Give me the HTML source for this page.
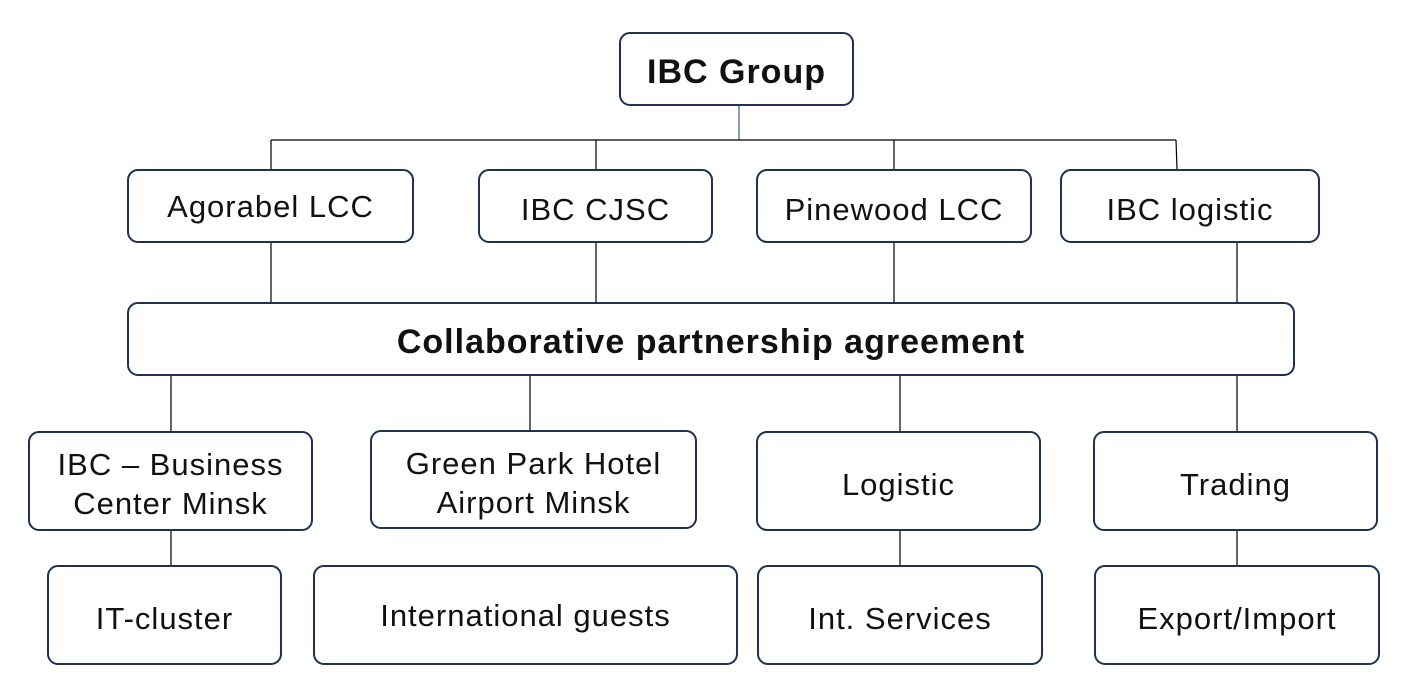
<!DOCTYPE html>
<html><head><meta charset="utf-8"><style>
body{margin:0;width:1409px;height:693px;background:#fff;position:relative;overflow:hidden;font-family:"Liberation Sans",sans-serif;}
.b{position:absolute;box-sizing:border-box;border:2px solid #1f3050;border-radius:11px;display:flex;align-items:center;justify-content:center;text-align:center;font-size:31px;line-height:39px;color:#111;letter-spacing:1px;padding-top:6px}
svg{position:absolute;left:0;top:0}
</style></head><body>
<svg width="1409" height="693"><g stroke="#000" stroke-width="1.2" fill="none">
<line x1="739" y1="106" x2="739" y2="140" stroke="#3a5a8a"/>
<line x1="271" y1="140" x2="1176" y2="140"/>
<line x1="271" y1="140" x2="271" y2="169"/><line x1="596" y1="140" x2="596" y2="169"/><line x1="894" y1="140" x2="894" y2="169"/><line x1="1176" y1="140" x2="1177" y2="169"/>
<line x1="271" y1="243" x2="271" y2="302"/><line x1="596" y1="243" x2="596" y2="302"/><line x1="894" y1="243" x2="894" y2="302"/><line x1="1237" y1="243" x2="1237" y2="302"/>
<line x1="171" y1="376" x2="171" y2="431"/><line x1="530" y1="376" x2="530" y2="430"/><line x1="900" y1="376" x2="900" y2="431"/><line x1="1237" y1="376" x2="1237" y2="431"/>
<line x1="171" y1="531" x2="171" y2="565"/><line x1="900" y1="531" x2="900" y2="565"/><line x1="1237" y1="531" x2="1237" y2="565"/>
</g></svg>
<div class="b" style="left:619px;top:32px;width:235px;height:74px;font-size:34px;font-weight:bold">IBC Group</div>
<div class="b" style="left:127px;top:169px;width:287px;height:74px;padding-top:0">Agorabel LCC</div>
<div class="b" style="left:478px;top:169px;width:235px;height:74px">IBC CJSC</div>
<div class="b" style="left:756px;top:169px;width:276px;height:74px">Pinewood LCC</div>
<div class="b" style="left:1060px;top:169px;width:260px;height:74px">IBC logistic</div>
<div class="b" style="left:127px;top:302px;width:1168px;height:74px;font-size:34px;font-weight:bold">Collaborative partnership agreement</div>
<div class="b" style="left:28px;top:431px;width:285px;height:100px">IBC – Business<br>Center Minsk</div>
<div class="b" style="left:370px;top:430px;width:327px;height:99px">Green Park Hotel<br>Airport Minsk</div>
<div class="b" style="left:756px;top:431px;width:285px;height:100px">Logistic</div>
<div class="b" style="left:1093px;top:431px;width:285px;height:100px">Trading</div>
<div class="b" style="left:47px;top:565px;width:235px;height:100px">IT-cluster</div>
<div class="b" style="left:313px;top:565px;width:425px;height:100px;padding-top:0">International guests</div>
<div class="b" style="left:757px;top:565px;width:286px;height:100px">Int. Services</div>
<div class="b" style="left:1094px;top:565px;width:286px;height:100px">Export/Import</div>
</body></html>
